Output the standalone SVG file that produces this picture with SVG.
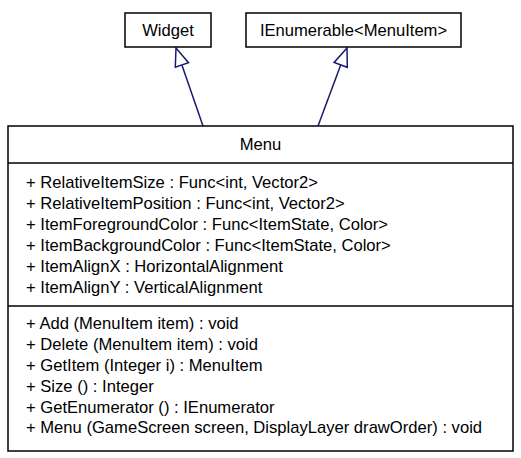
<svg xmlns="http://www.w3.org/2000/svg" width="521" height="458" viewBox="0 0 521 458">
<style>
.box{fill:#fff;stroke:#000;stroke-width:1.5}
.t{font-family:"Liberation Sans",Arial,sans-serif;font-size:16.6px;fill:#000}
.c{text-anchor:middle}
.e{fill:none;stroke:#191970;stroke-width:1.5}
.h{fill:#fff;stroke:#191970;stroke-width:1.5}
</style>
<rect width="521" height="458" fill="#fff"/>
<g id="edges">
<path class="e" d="M203,126 L181.9,65"/>
<polygon class="h" points="176,48 188.5,62.7 175.3,67.3"/>
<path class="e" d="M318,126 L340.7,64.9"/>
<polygon class="h" points="347,48 347.3,67.3 334.1,62.5"/>
</g>
<g id="widget">
<rect class="box" x="125" y="13" width="86" height="34"/>
<text class="t c" x="168" y="36">Widget</text>
</g>
<g id="ienumerable">
<rect class="box" x="246" y="13" width="215" height="34"/>
<text class="t c" x="353.5" y="36">IEnumerable&lt;MenuItem&gt;</text>
</g>
<g id="menu">
<rect class="box" x="8" y="126" width="505" height="325"/>
<line x1="8" y1="163" x2="513" y2="163" stroke="#000" stroke-width="1.5"/>
<line x1="8" y1="306" x2="513" y2="306" stroke="#000" stroke-width="1.5"/>
<text class="t c" x="260.5" y="150">Menu</text>
<text class="t" x="26" y="188">+ RelativeItemSize : Func&lt;int, Vector2&gt;</text>
<text class="t" x="26" y="209">+ RelativeItemPosition : Func&lt;int, Vector2&gt;</text>
<text class="t" x="26" y="230">+ ItemForegroundColor : Func&lt;ItemState, Color&gt;</text>
<text class="t" x="26" y="251">+ ItemBackgroundColor : Func&lt;ItemState, Color&gt;</text>
<text class="t" x="26" y="272">+ ItemAlignX : HorizontalAlignment</text>
<text class="t" x="26" y="293">+ ItemAlignY : VerticalAlignment</text>
<text class="t" x="26" y="329">+ Add (MenuItem item) : void</text>
<text class="t" x="26" y="350">+ Delete (MenuItem item) : void</text>
<text class="t" x="26" y="371">+ GetItem (Integer i) : MenuItem</text>
<text class="t" x="26" y="392">+ Size () : Integer</text>
<text class="t" x="26" y="413">+ GetEnumerator () : IEnumerator</text>
<text class="t" x="26" y="433">+ Menu (GameScreen screen, DisplayLayer drawOrder) : void</text>
</g>
</svg>
